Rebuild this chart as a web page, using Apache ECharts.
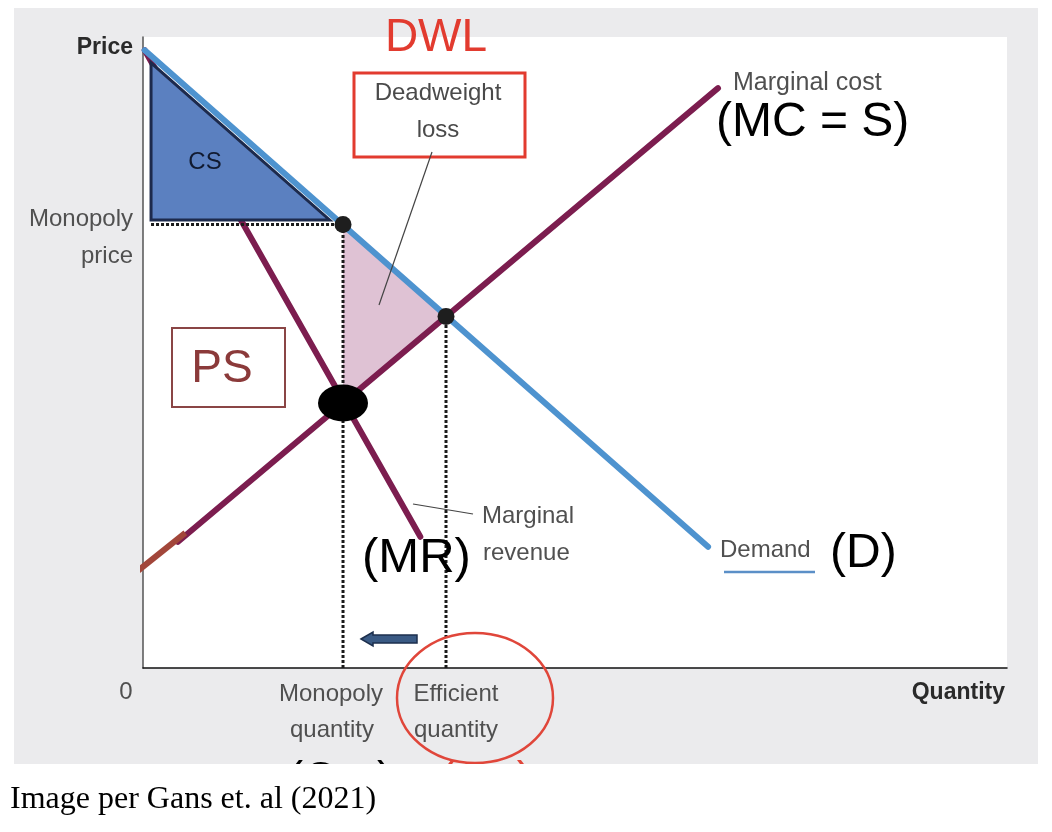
<!DOCTYPE html>
<html>
<head>
<meta charset="utf-8">
<script src="https://cdn.jsdelivr.net/npm/echarts@6/dist/echarts.min.js"></script>
<style>
  html, body { margin: 0; padding: 0; background: #fff; }
  #chart { width: 1052px; height: 832px; }
</style>
</head>
<body>
<div id="chart"></div>
<script>
// quantity / price in arbitrary units (0-100 on both axes)
var monopolyQ = 23.15;
var monopolyP = 70.3;
var efficientQ = 35.07;
var efficientP = 55.7;
var mcAtMonopolyQ = 42.0;

var demandLine = [[0.2, 97.9], [65.4, 19.2]];
var mcLine = [[4.05, 20.0], [66.55, 91.9]];
var mcStub = [[-0.6, 15.4], [4.9, 21.4]];
var mrLine = [[0.2, 97.9], [32.1, 20.8]];

var csArea = [[0.93, 95.9], [0.93, 71.0], [21.6, 71.0]];
var dwlArea = [[monopolyQ, monopolyP], [efficientQ, efficientP], [monopolyQ, mcAtMonopolyQ]];

var priceGuide = [[0.93, monopolyP], [monopolyQ, monopolyP]];
var monopolyGuide = [[monopolyQ, 0], [monopolyQ, monopolyP]];
var efficientGuide = [[efficientQ, 0], [efficientQ, efficientP]];

var equilibriumDots = [[monopolyQ, monopolyP], [efficientQ, efficientP]];
var mrEqualsMc = [[monopolyQ, mcAtMonopolyQ]];

var sans = '"Liberation Sans", Arial, sans-serif';
var grey = '#505050';

function polygonSeries(pts, style, z) {
    return {
        type: 'custom',
        z: z,
        silent: true,
        data: [[0, 0]],
        renderItem: function (params, api) {
            return {
                type: 'polygon',
                shape: { points: pts.map(function (p) { return api.coord(p); }) },
                style: style
            };
        }
    };
}

function lineSeries(pts, color, width, z, extra) {
    var s = {
        type: 'line',
        data: pts,
        z: z,
        silent: true,
        showSymbol: false,
        symbol: 'none',
        lineStyle: { color: color, width: width, cap: 'round' }
    };
    if (extra) {
        for (var k in extra) s[k] = extra[k];
    }
    return s;
}

function label(text, x, y, size, color, align, weight) {
    return {
        type: 'text',
        x: x,
        y: y,
        z: 100,
        silent: true,
        style: {
            text: text,
            fill: color,
            font: (weight || 'normal') + ' ' + size + 'px ' + sans,
            textAlign: align || 'center',
            textVerticalAlign: 'middle'
        }
    };
}

var chart = echarts.init(document.getElementById('chart'));

var dotted = { color: '#1a1a1a', width: 3, type: [3, 2] };

option = {
    animation: false,
    backgroundColor: '#fff',
    grid: {
        left: 143,
        right: 45,
        top: 37,
        bottom: 164,
        show: true,
        backgroundColor: '#fff',
        borderWidth: 0,
        outerBoundsMode: 'none'
    },
    xAxis: {
        type: 'value',
        min: 0,
        max: 100,
        axisLine: { show: true, onZero: false, lineStyle: { color: '#111', width: 1.5 } },
        axisTick: { show: false },
        axisLabel: { show: false },
        splitLine: { show: false }
    },
    yAxis: {
        type: 'value',
        min: 0,
        max: 100,
        axisLine: { show: true, onZero: false, lineStyle: { color: '#555', width: 1.5 } },
        axisTick: { show: false },
        axisLabel: { show: false },
        splitLine: { show: false }
    },
    series: [
        polygonSeries(dwlArea, { fill: '#dfc2d4' }, 1),
        lineSeries(mrLine, '#7c1d4f', 6, 2),
        polygonSeries(csArea, { fill: '#5b80c0', stroke: '#1d2a4c', lineWidth: 3, lineJoin: 'miter' }, 3),
        lineSeries(priceGuide, '#1a1a1a', 3, 4, { lineStyle: dotted }),
        lineSeries(monopolyGuide, '#1a1a1a', 3, 4, { lineStyle: dotted }),
        lineSeries(efficientGuide, '#1a1a1a', 3, 4, { lineStyle: dotted }),
        lineSeries(mcLine, '#7c1d4f', 6, 5),
        lineSeries(mcStub, '#a2463a', 6, 5, { clip: false, lineStyle: { color: '#a2463a', width: 6, cap: 'butt' } }),
        lineSeries(demandLine, '#4e93cf', 6, 6),
        {
            type: 'scatter',
            data: equilibriumDots,
            z: 7,
            silent: true,
            symbol: 'circle',
            symbolSize: 17,
            itemStyle: { color: '#1e1e1e', opacity: 1 }
        },
        {
            type: 'scatter',
            data: mrEqualsMc,
            z: 7,
            silent: true,
            symbol: 'circle',
            symbolSize: [50, 37],
            itemStyle: { color: '#000', opacity: 1 }
        }
    ],
    graphic: [
        // grey panel behind the plot
        { type: 'rect', z: -100, silent: true, shape: { x: 14, y: 8, width: 1024, height: 756 }, style: { fill: '#ebebed' } },

        // cut-off labels under the quantities
        label('(Qm)', 340, 781, 46, '#000'),
        label('(Qe)', 486, 781, 46, '#e0463a'),
        { type: 'rect', z: 110, silent: true, shape: { x: 0, y: 764, width: 1052, height: 68 }, style: { fill: '#fff' } },
        {
            type: 'text', x: 10, y: 800, z: 120, silent: true,
            style: { text: 'Image per Gans et. al (2021)', fill: '#000', font: '32px "Liberation Serif", "Times New Roman", serif', textAlign: 'left', textVerticalAlign: 'middle' }
        },

        // axis labels
        label('Price', 133, 48, 23, '#2a2a2a', 'right', 'bold'),
        label('Monopoly', 133, 219, 24, grey, 'right'),
        label('price', 133, 256, 24, grey, 'right'),
        label('0', 126, 692, 24, grey),
        label('Monopoly', 331, 694, 24, grey),
        label('quantity', 332, 730, 24, grey),
        label('Efficient', 456, 694, 24, grey),
        label('quantity', 456, 730, 24, grey),
        label('Quantity', 1005, 693, 23, '#2a2a2a', 'right', 'bold'),

        // consumer / producer surplus
        label('CS', 205, 162, 24, '#111a30'),
        { type: 'rect', z: 100, silent: true, shape: { x: 172, y: 328, width: 113, height: 79 }, style: { fill: 'none', stroke: '#8a4545', lineWidth: 2 } },
        label('PS', 222, 369, 46, '#8b3a3a'),

        // deadweight loss
        label('DWL', 436, 38, 46, '#e23b2f'),
        { type: 'rect', z: 100, silent: true, shape: { x: 354, y: 73, width: 171, height: 84 }, style: { fill: 'none', stroke: '#e23b2f', lineWidth: 3 } },
        label('Deadweight', 438, 93, 24, '#4a4a4a'),
        label('loss', 438, 130, 24, '#4a4a4a'),
        { type: 'line', z: 100, silent: true, shape: { x1: 432, y1: 152, x2: 379, y2: 305 }, style: { stroke: '#444', lineWidth: 1.2 } },

        // curve names
        label('Marginal cost', 733, 83, 25, grey, 'left'),
        label('(MC = S)', 716, 123, 48, '#000', 'left'),
        { type: 'line', z: 100, silent: true, shape: { x1: 413, y1: 504, x2: 473, y2: 514 }, style: { stroke: '#444', lineWidth: 1.2 } },
        label('Marginal', 482, 516, 24, grey, 'left'),
        label('revenue', 483, 553, 24, grey, 'left'),
        label('(MR)', 362, 558, 49, '#000', 'left'),
        label('Demand', 720, 550, 24, grey, 'left'),
        { type: 'line', z: 100, silent: true, shape: { x1: 724, y1: 572, x2: 815, y2: 572 }, style: { stroke: '#5b8fc7', lineWidth: 2.5 } },
        label('(D)', 830, 554, 48, '#000', 'left'),

        // shift arrow
        {
            type: 'polygon', z: 100, silent: true,
            shape: { points: [[361, 639], [373, 632], [373, 635], [417, 635], [417, 643], [373, 643], [373, 646]] },
            style: { fill: '#3a5a84', stroke: '#1d2f4d', lineWidth: 1.5 }
        },

        // circle around efficient quantity
        { type: 'ellipse', z: 100, silent: true, shape: { cx: 475, cy: 698, rx: 78, ry: 65 }, style: { fill: 'none', stroke: '#e0463a', lineWidth: 2.5 } }
    ]
};

chart.setOption(option);
</script>
</body>
</html>
